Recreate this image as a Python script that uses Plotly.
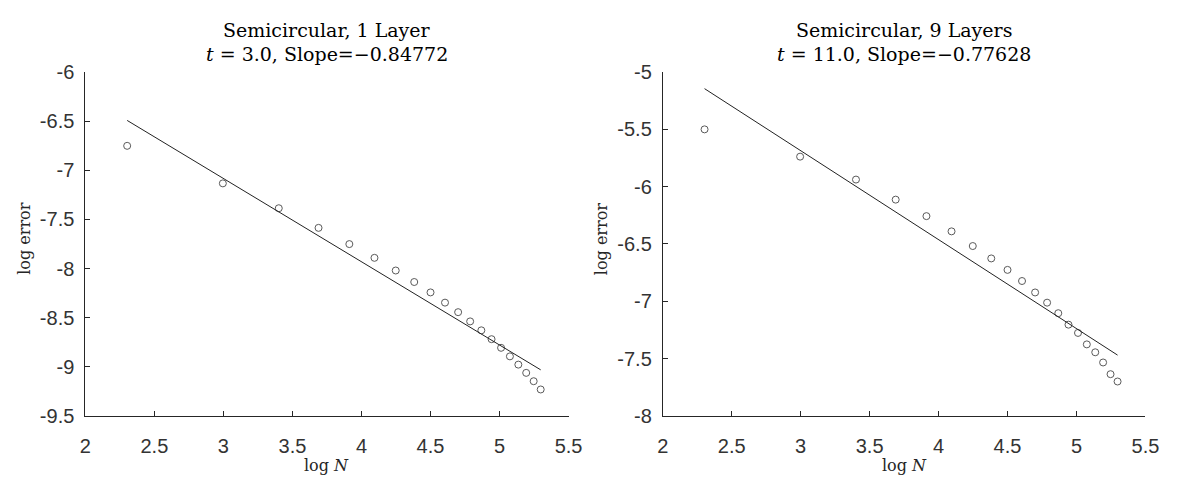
import plotly.graph_objects as go

# Data
log_n = [2.303, 2.996, 3.401, 3.689, 3.912, 4.094, 4.248, 4.382, 4.500, 4.605,
         4.700, 4.787, 4.868, 4.942, 5.011, 5.075, 5.136, 5.193, 5.247, 5.298]
err_1layer = [-6.751, -7.133, -7.386, -7.586, -7.751, -7.891, -8.020, -8.137, -8.243, -8.347,
              -8.444, -8.538, -8.629, -8.719, -8.807, -8.894, -8.978, -9.062, -9.147, -9.231]
err_9layers = [-5.500, -5.738, -5.938, -6.113, -6.257, -6.390, -6.518, -6.626, -6.726, -6.823,
               -6.923, -7.012, -7.104, -7.204, -7.276, -7.376, -7.445, -7.534, -7.636, -7.700]
slope_1, intercept_1 = -0.84772, -4.540
slope_9, intercept_9 = -0.77628, -3.357
fit_x = [log_n[0], log_n[-1]]

x_ticks = [2, 2.5, 3, 3.5, 4, 4.5, 5, 5.5]
x_ticktext = ["2", "2.5", "3", "3.5", "4", "4.5", "5", "5.5"]
y1_ticks = [-9.5, -9, -8.5, -8, -7.5, -7, -6.5, -6]
y1_ticktext = ["-9.5", "-9", "-8.5", "-8", "-7.5", "-7", "-6.5", "-6"]
y2_ticks = [-8, -7.5, -7, -6.5, -6, -5.5, -5]
y2_ticktext = ["-8", "-7.5", "-7", "-6.5", "-6", "-5.5", "-5"]

titles = [("Semicircular, 1 Layer", "<i>t</i> = 3.0, Slope=\u22120.84772"),
          ("Semicircular, 9 Layers", "<i>t</i> = 11.0, Slope=\u22120.77628")]

W, H = 1179, 481
dom1 = [80.7 / W, 572.3 / W]
dom2 = [668.1 / W, 1159.1 / W]
ydom = [1 - 424.3 / H, 1 - 64.0 / H]

fig = go.Figure()
marker = dict(symbol="circle-open", size=7, color="#5a5a5a", line=dict(width=1, color="#5a5a5a"))
line = dict(color="#222222", width=1)

fig.add_trace(go.Scatter(x=log_n, y=err_1layer, mode="markers", marker=marker, xaxis="x", yaxis="y"))
fig.add_trace(go.Scatter(x=fit_x, y=[intercept_1 + slope_1 * v for v in fit_x], mode="lines",
                         line=line, xaxis="x", yaxis="y"))
fig.add_trace(go.Scatter(x=log_n, y=err_9layers, mode="markers", marker=marker, xaxis="x2", yaxis="y2"))
fig.add_trace(go.Scatter(x=fit_x, y=[intercept_9 + slope_9 * v for v in fit_x], mode="lines",
                         line=line, xaxis="x2", yaxis="y2"))

tickfont = dict(family="Liberation Sans, Arial, sans-serif", size=20, color="#333333")
axcommon = dict(showline=True, linecolor="#262626", linewidth=1, ticks="inside", ticklen=5,
                tickcolor="#262626", showgrid=False, zeroline=False, tickfont=tickfont, mirror=False)

fig.update_layout(
    width=W, height=H, margin=dict(l=0, r=0, t=0, b=0),
    paper_bgcolor="white", plot_bgcolor="white", showlegend=False,
    xaxis=dict(domain=dom1, range=[2, 5.5], tickvals=x_ticks, ticktext=x_ticktext, anchor="y",
               ticklabelstandoff=12, **axcommon),
    yaxis=dict(domain=ydom, range=[-9.5, -6], tickvals=y1_ticks, ticktext=y1_ticktext, anchor="x",
               ticklabelstandoff=6, **axcommon),
    xaxis2=dict(domain=dom2, range=[2, 5.5], tickvals=x_ticks, ticktext=x_ticktext, anchor="y2",
                ticklabelstandoff=12, **axcommon),
    yaxis2=dict(domain=ydom, range=[-8, -5], tickvals=y2_ticks, ticktext=y2_ticktext, anchor="x2",
                ticklabelstandoff=6, **axcommon),
)

serif = dict(family="DejaVu Serif, serif", size=19, color="#000000")
label_font = dict(family="DejaVu Serif, serif", size=16, color="#262626")
for dom, (t1, t2) in [(dom1, titles[0]), (dom2, titles[1])]:
    cx = (dom[0] + dom[1]) / 2
    fig.add_annotation(x=cx, y=1 - 20 / H, xref="paper", yref="paper", text=t1, showarrow=False,
                       font=serif, xanchor="center", yanchor="middle")
    fig.add_annotation(x=cx, y=1 - 45 / H, xref="paper", yref="paper", text=t2, showarrow=False,
                       font=serif, xanchor="center", yanchor="middle")
    fig.add_annotation(x=cx, y=1 - 476 / H, xref="paper", yref="paper", text="log <i>N</i>",
                       showarrow=False, font=label_font, xanchor="center", yanchor="middle")
    fig.add_annotation(x=dom[0] - 62.7 / W, y=1 - 239 / H, xref="paper", yref="paper", text="log error",
                       showarrow=False, font=label_font, textangle=-90, xanchor="center", yanchor="middle")

fig.write_html("out.html")
